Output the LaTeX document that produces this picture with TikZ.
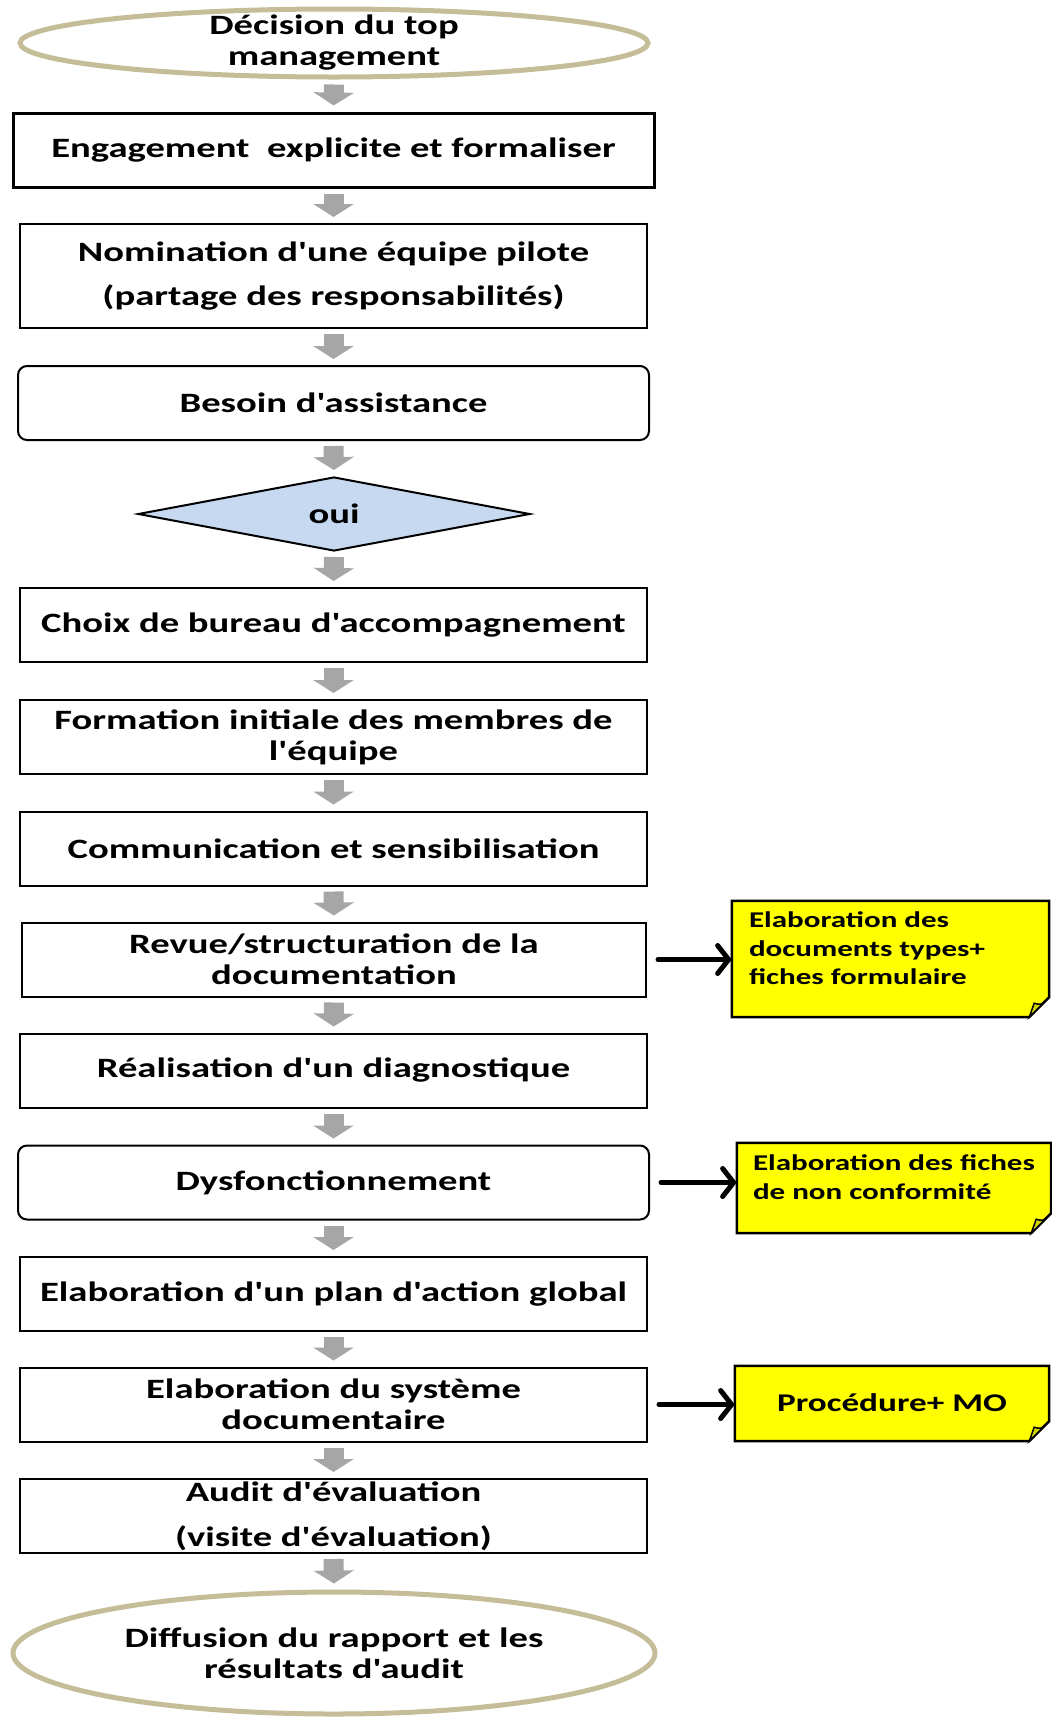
\documentclass[tikz,border=0pt]{standalone}
\usepackage{fontspec}
\newfontfamily\calfont{Carlito}[FakeStretch=1.38]
\usetikzlibrary{shapes.geometric,arrows.meta,calc}
\definecolor{garrow}{HTML}{A6A6A6}
\definecolor{ellcol}{HTML}{C4BD97}
\definecolor{diafill}{HTML}{C6D9F1}
\definecolor{notey}{HTML}{FFFF00}
\definecolor{foldy}{HTML}{D4D400}
\newcommand{\fbig}{\calfont\bfseries\fontsize{28}{31}\selectfont}
\newcommand{\fsmall}{\calfont\bfseries\fontsize{22.5}{28.5}\selectfont}
\newcommand{\fmid}{\calfont\bfseries\fontsize{25.5}{30}\selectfont}
\begin{document}
\begin{tikzpicture}[x=1pt,y=-1pt,
  box/.style={draw, line width=2pt, fill=white, minimum width=627pt, minimum height=74pt, align=center, font=\fbig, inner sep=0pt},
  rbox/.style={box, rounded corners=9pt, minimum width=631pt},
  term/.style={ellipse, draw=ellcol, line width=5pt, fill=white, inner sep=0pt},
  dia/.style={diamond, draw, line width=2pt, fill=diafill, minimum width=392pt, minimum height=74pt, shape aspect=5.3, inner sep=0pt, font=\fbig},
  gar/.style={draw=garrow, line width=20pt, -{Triangle[width=40pt,length=13pt]}, shorten <=5pt, shorten >=6pt},
  bar/.style={line width=5pt, line cap=round, -{Straight Barb[length=11pt,width=28pt,line cap=round]}, shorten <=11pt},
  notebox/.style={minimum width=#1, inner sep=0pt},
  notetxt/.style={anchor=north west, align=left, font=\fsmall, inner sep=0pt},
  noteshape/.style={draw, line width=2.5pt, fill=notey, line join=miter},
  fold/.style={draw, line width=1.5pt, fill=foldy}
]
\useasboundingbox (0,0) rectangle (1052,1717);

% main column
\node[term, minimum width=628pt, minimum height=68pt,
  label={[font=\fbig, align=center, inner sep=0pt]center:Décision du top\\management}] (top) at (334,43) {};
\node[box, line width=3pt, minimum width=641pt] (eng) at (333.5,150) {Engagement\ \ explicite et formaliser};
\node[box, minimum height=104pt, font=\calfont\bfseries\fontsize{28}{44}\selectfont] (nom) at (333.5,276) {Nomination d'une équipe pilote\\(partage des responsabilités)};
\node[rbox] (bes) at (333.5,403) {Besoin d'assistance};
\node[dia] (oui) at (334,514) {oui};
\node[box] (choix) at (333.5,625) {Choix de bureau d'accompagnement};
\node[box] (form) at (333.5,737) {Formation initiale des membres de\\l'équipe};
\node[box] (comm) at (333.5,848.5) {Communication et sensibilisation};
\node[box, minimum width=624pt] (revue) at (334,959.5) {Revue/structuration de la\\documentation};
\node[box] (real) at (333.5,1070.5) {Réalisation d'un diagnostique};
\node[rbox] (dys) at (333.5,1182.5) {Dysfonctionnement};
\node[box] (plan) at (333.5,1294) {Elaboration d'un plan d'action global};
\node[box] (sys) at (333.5,1404.5) {Elaboration du système\\documentaire};
\node[box, font=\calfont\bfseries\fontsize{28}{45}\selectfont] (audit) at (333.5,1516) {Audit d'évaluation\\(visite d'évaluation)};
\node[term, minimum width=642pt, minimum height=122pt,
  label={[font=\fbig, align=center, inner sep=0pt]center:Diffusion du rapport et les\\résultats d'audit}] (bot) at (334,1653) {};

% grey block arrows
\foreach \a/\b in {top/eng, eng/nom, nom/bes, bes/oui, oui/choix, choix/form, form/comm, comm/revue, revue/real, real/dys, dys/plan, plan/sys, sys/audit, audit/bot}
  \draw[gar] (\a.south) -- (\b.north);

% notes
\node[notebox=317pt, minimum height=116pt] (n1) at (890.5,959) {};
\node[notebox=314pt, minimum height=90pt] (n2) at (894,1188) {};
\node[notebox=314pt, minimum height=75pt] (n3) at (892,1403.5) {};
\foreach \n in {n1,n2,n3}{
  \draw[noteshape] (\n.north west) -- (\n.north east) -- ($(\n.south east)+(0pt,20pt)$) -- ($(\n.south east)+(-20pt,0pt)$) -- (\n.south west) -- cycle;
  \draw[fold] ($(\n.south east)+(-20pt,0pt)$) -- ($(\n.south east)+(0pt,20pt)$) .. controls ($(\n.south east)+(-8pt,12pt)$) .. ($(\n.south east)+(-15pt,14pt)$) -- cycle;
}
\node[notetxt] (t1) at ($(n1.north west)+(17pt,-11pt)$) {Elaboration des\\documents types+\\fiches formulaire};
\node[notetxt] (t2) at ($(n2.north west)+(16pt,-12pt)$) {Elaboration des fiches\\de non conformité};
\node[font=\fmid, inner sep=0pt] (t3) at ($(n3.center)+(0pt,1pt)$) {Procédure+ MO};

% black arrows
\draw[bar] (revue.east) -- (revue.east -| n1.west);
\draw[bar] (dys.east) -- (dys.east -| n2.west);
\draw[bar] (sys.east) -- (sys.east -| n3.west);
\end{tikzpicture}
\end{document}
